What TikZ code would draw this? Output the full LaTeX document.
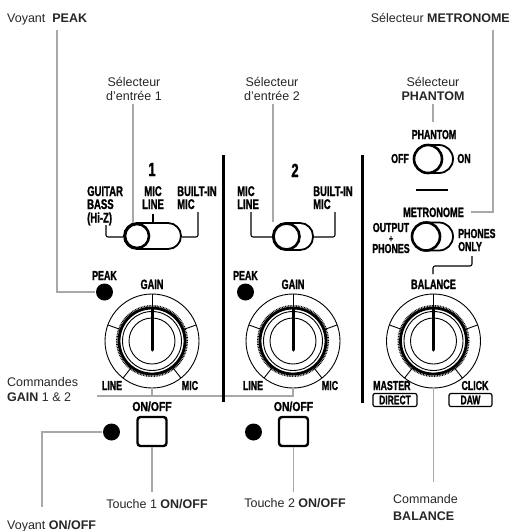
\documentclass[tikz,border=0pt]{standalone}
\usepackage{fontspec}
\setmainfont{Liberation Sans}
\newfontfamily\cond{Liberation Sans}[FakeStretch=0.68, BoldFeatures={FakeBold=1.3}]
\newfontfamily\condw{Liberation Sans}[FakeStretch=0.8, BoldFeatures={FakeBold=1.3}]
\usetikzlibrary{calc}
\definecolor{leadgray}{RGB}{168,168,168}
\tikzset{
  lbl/.style={font=\fontsize{12.5}{14}\selectfont, text=black!85, inner sep=0pt},
  pl/.style={font=\cond\bfseries\fontsize{13}{12}\selectfont, inner sep=0pt},
  plb/.style={font=\cond\bfseries\fontsize{13.5}{12}\selectfont, inner sep=0pt},
  plw/.style={font=\condw\bfseries\fontsize{13}{12}\selectfont, inner sep=0pt},
  sel/.style={font=\cond\bfseries\fontsize{14}{12}\selectfont, inner sep=0pt},
  num/.style={font=\cond\bfseries\fontsize{19}{17}\selectfont, inner sep=0pt},
  lead/.style={draw=leadgray, line width=1.6pt},
  brk/.style={draw=black, line width=1.1pt, rounded corners=2pt},
  divider/.style={draw=black, line width=3pt},
  led/.style={circle, fill=black, minimum size=17pt, inner sep=0pt},
  btn/.style={draw=black, line width=2.4pt, rounded corners=3pt, minimum size=29pt, inner sep=0pt},
  tag/.style={draw=black, line width=1.2pt, rounded corners=2pt, minimum height=13pt, inner sep=0pt,
              font=\cond\bfseries\fontsize{12.5}{12}\selectfont},
  swknob/.style={circle, draw=black, line width=2.6pt, fill=white, inner sep=0pt},
  swbody/.style={draw=black, line width=1.8pt},
  knob/.pic={
    \draw[line width=0.9pt] (0,0) circle[radius=47pt];
    \foreach \a in {20,160,232,308} \draw[line width=0.9pt] (\a:34pt) -- (\a:47pt);
    \draw[line width=0.9pt] (0,-47) -- (0,-34);
    \draw[line width=1.6pt, dash pattern=on 0.8pt off 0.8pt] (0,0) circle[radius=35.2pt];
    \draw[line width=2.8pt] (0,0) circle[radius=33pt];
    \draw[line width=0.9pt] (0,0) circle[radius=29.5pt];
    \draw[line width=0.9pt] (0,0) circle[radius=23pt];
    \draw[line width=3pt, line cap=round] (0,-33) -- (0,9);
  }
}
\begin{document}
\begin{tikzpicture}[x=1pt,y=-1pt]
\useasboundingbox (0,0) rectangle (515,531);

% ---------- top labels ----------
\node[lbl, anchor=base west] (vpeak) at (7,22) {Voyant \ \textbf{PEAK}};
\node[lbl, anchor=base east] (smet) at (510,22) {Sélecteur \textbf{METRONOME}};
\node[lbl, anchor=base] (s1a) at (134,86) {Sélecteur};
\node[lbl, anchor=base] (s1b) at (134,100) {d'entrée 1};
\node[lbl, anchor=base] (s2a) at (272,86) {Sélecteur};
\node[lbl, anchor=base] (s2b) at (272,100) {d'entrée 2};
\node[lbl, anchor=base] (spa) at (433,86) {Sélecteur};
\node[lbl, anchor=base] (spb) at (433,100) {\textbf{PHANTOM}};

% ---------- dividers ----------
\coordinate (d1a) at (223,155); \coordinate (d1b) at (223,402);
\coordinate (d2a) at (362,155); \coordinate (d2b) at (362,403);

% ---------- channel 1 ----------
\node[num, anchor=base] (n1) at (152,176) {1};
\node[sel, anchor=base west] (g1) at (87,196) {GUITAR};
\node[sel, anchor=base west] (g2) at (87,209) {BASS};
\node[sel, anchor=base west] (g3) at (87,222.5) {(Hi-Z)};
\node[sel, anchor=base] (m1a) at (153,196) {MIC};
\node[sel, anchor=base] (m1b) at (153,209) {LINE};
\node[sel, anchor=base west] (b1a) at (177,196) {BUILT-IN};
\node[sel, anchor=base west] (b1b) at (177,209) {MIC};
\draw[swbody, rounded corners=13pt] (124,223) rectangle (181,249);
\node[swknob, minimum size=24pt] (sw1) at (137,236) {};
\draw[brk] (106,225) |- (123,237);
\draw[brk] (182,237) -| (198,212);
\draw[line width=1.1pt] (153,214) -- (153,223);

\node[pl, anchor=base] (pk1) at (104.5,280) {PEAK};
\node[led] (led1) at (104.5,292) {};
\node[plb, anchor=base] (gain1) at (152,289) {GAIN};
\coordinate (k1) at (152,341);
\pic at (k1) {knob};
\node[pl, anchor=base] (l1) at (112,390) {LINE};
\node[pl, anchor=base] (mic1) at (190,390) {MIC};
\node[plw, anchor=base] (oo1) at (152,411) {ON/OFF};
\node[btn] (btn1) at (152,431.5) {};
\node[led] (led3) at (111.5,432) {};

% ---------- channel 2 ----------
\node[num, anchor=base] (n2) at (295,177) {2};
\node[sel, anchor=base west] (m2a) at (237,196) {MIC};
\node[sel, anchor=base west] (m2b) at (237,209) {LINE};
\node[sel, anchor=base west] (b2a) at (313,196) {BUILT-IN};
\node[sel, anchor=base west] (b2b) at (313,209) {MIC};
\draw[swbody, rounded corners=13pt] (273,223) rectangle (313,250);
\node[swknob, minimum size=26pt] (sw2) at (286.5,236.5) {};
\draw[brk] (251,212) |- (272,237);
\draw[brk] (314,237) -| (335,212);

\node[pl, anchor=base] (pk2) at (245.5,280) {PEAK};
\node[led] (led2) at (245.5,292) {};
\node[plb, anchor=base] (gain2) at (293,289) {GAIN};
\coordinate (k2) at (293,341);
\pic at (k2) {knob};
\node[pl, anchor=base] (l2) at (253,390) {LINE};
\node[pl, anchor=base] (mic2) at (330,390) {MIC};
\node[plw, anchor=base] (oo2) at (293.5,411) {ON/OFF};
\node[btn] (btn2) at (293.5,431.5) {};
\node[led] (led4) at (253.5,432) {};

% ---------- right section ----------
\node[pl, anchor=base] (phl) at (434,139) {PHANTOM};
\node[pl, anchor=base] (off) at (400,163) {OFF};
\node[pl, anchor=base] (on) at (464,163) {ON};
\draw[swbody, rounded corners=14pt] (414,145) rectangle (453,173);
\node[swknob, minimum size=28pt] (swp) at (428,159) {};
\draw[line width=1.6pt] (416,190) -- (448,190);
\node[plb, anchor=base] (metl) at (433.5,217) {METRONOME};
\node[pl, anchor=base] (op1) at (391,232) {OUTPUT};
\node[pl, anchor=base, font=\cond\bfseries\fontsize{10}{10}\selectfont] (op2) at (391,242) {+};
\node[pl, anchor=base] (op3) at (391,253) {PHONES};
\node[pl, anchor=base west] (po1) at (458,238) {PHONES};
\node[pl, anchor=base west] (po2) at (458,251) {ONLY};
\draw[swbody, rounded corners=14pt] (412,222.5) rectangle (453,250.5);
\node[swknob, minimum size=28pt] (swm) at (426,236.5) {};
\draw[brk] (472,256) |- (433,266) -- (433,274);
\node[plb, anchor=base] (bal) at (433.5,289) {BALANCE};
\coordinate (k3) at (433.5,341);
\pic at (k3) {knob};
\node[pl, anchor=base west] (mas) at (373,390) {MASTER};
\node[pl, anchor=base] (clk) at (475,390) {CLICK};
\node[tag, minimum width=44pt] (dir) at (395,400) {DIRECT};
\node[tag, minimum width=43pt] (daw) at (470.5,400) {DAW};

% ---------- bottom labels ----------
\node[lbl, anchor=base west] (cg1) at (7,386) {Commandes};
\node[lbl, anchor=base west] (cg2) at (7,401) {\textbf{GAIN} 1 \& 2};
\node[lbl, anchor=base] (t1) at (157,508) {Touche 1 \textbf{ON/OFF}};
\node[lbl, anchor=base] (t2) at (295,507) {Touche 2 \textbf{ON/OFF}};
\node[lbl, anchor=base west] (cb1) at (393,503) {Commande};
\node[lbl, anchor=base west] (cb2) at (393,520) {\textbf{BALANCE}};
\node[lbl, anchor=base west] (von) at (7,529) {Voyant \textbf{ON/OFF}};

% ---------- leader lines ----------
\coordinate (pk0) at (57,30);
\draw[lead] (pk0) |- ([xshift=-1pt]led1.west);
\coordinate (i1) at (133,104);
\draw[lead] (i1) -- (i1 |- sw1.north);
\coordinate (i2) at (273,104);
\draw[lead] (i2) -- (273,222);
\coordinate (ip) at (433,104);
\draw[lead] (ip) -- (433,122);
\coordinate (mt0) at (493,30);
\draw[lead] (mt0) |- ([xshift=7pt]metl.east |- 0,212);
\coordinate (g0) at (97,396);
\draw[lead] ($(k1)+(0,47)$) -- (k1 |- g0);
\draw[lead] (g0) -- (g0 -| k2) -- ($(k2)+(0,47)$);
\coordinate (vo) at (42,507);
\draw[lead] ([xshift=-1pt]led3.west) -| (vo);
\coordinate (tb1) at (152,492);
\draw[lead] (btn1.south) -- (tb1);
\coordinate (tb2) at (293.5,492);
\draw[lead] (btn2.south) -- (tb2);
\coordinate (cb0) at (433.5,482);
\draw[lead] ($(k3)+(0,47)$) -- (cb0);

% dividers drawn last
\draw[divider] (d1a) -- (d1b);
\draw[divider] (d2a) -- (d2b);
\end{tikzpicture}
\end{document}
